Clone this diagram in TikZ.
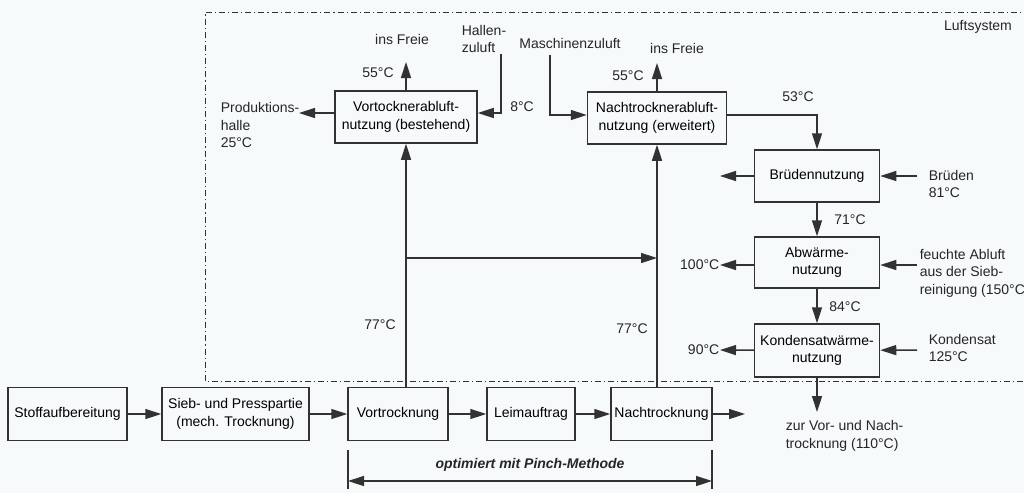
\documentclass[tikz,border=0pt]{standalone}
\usepackage{fontspec}
\setmainfont{Liberation Sans}
\usetikzlibrary{arrows.meta,positioning}
\definecolor{linegray}{RGB}{50,50,50}
\definecolor{paper}{RGB}{246,250,250}

\tikzset{
  every box/.style={draw=linegray, align=center, inner sep=2pt},
  lbl/.style={align=left, inner sep=0pt, text=black!85},
}

\begin{document}
\begin{tikzpicture}[x=1pt, y=-1pt, >={Triangle[length=16pt,width=10pt]}, line width=1.5pt,
  font=\fontsize{14}{17.5}\selectfont]

\fill[paper] (0,0) rectangle (1024,493);
\useasboundingbox (0,0) rectangle (1024,493);

% Luftsystem frame
\draw[linegray, line width=1pt, dash pattern=on 6pt off 3pt on 1.2pt off 3pt]
  (1030,12) -- (205,12) -- (205,381) -- (1030,381);
\node [lbl] (luft) at (978,27) {Luftsystem};

% process line
\foreach \n/\t/\xa/\xb in {stoff/Stoffaufbereitung/8/127,
    sieb/{Sieb- und Presspartie\\(mech. Trocknung)}/162/309,
    vortr/Vortrocknung/348/448, leim/Leimauftrag/487/575, nachtr/Nachtrocknung/611/712}
  \node [every box/.try, minimum width=\xb-\xa, minimum height=53] (\n) at ({(\xa+\xb)/2},414) {\t};

\foreach \a/\b in {stoff/sieb, sieb/vortr, vortr/leim, leim/nachtr}
  \draw [->, linegray] (\a) -- (\b);

\coordinate (nachtr-out) at (745,414);
\draw [->, linegray] (nachtr) -- (nachtr-out);

% pinch range
\coordinate (pinch-l) at (348,481);
\coordinate (pinch-r) at (712,481);
\draw [linegray] (348,450) -- (348,489);
\draw [linegray] (712,450) -- (712,489);
\draw [<->, linegray] (pinch-l) -- (pinch-r);
\node [lbl] (pinch) at (530,465) {\bfseries\itshape optimiert mit Pinch-Methode};

% exhaust air units
\node [every box/.try, minimum width=142, minimum height=52] (vabl) at (406,117)
  {Vortocknerabluft-\\nutzung (bestehend)};
\node [every box/.try, minimum width=139, minimum height=52] (nabl) at (657,118)
  {Nachtrocknerabluft-\\nutzung (erweitert)};

\draw [->, linegray] (vortr.north -| vabl.south) -- (vabl.south);
\draw [->, linegray] (nachtr.north -| nabl.south) -- (nabl.south);

\coordinate (branch) at (vabl.south |- 0,258);
\draw [->, linegray] (branch) -- (branch -| nabl.south);

\node [lbl] (t77a) at (380,325) {77°C};
\node [lbl] (t77b) at (632,329) {77°C};

% Vortrockner side
\node [lbl] (freiA) at (402,39) {ins Freie};
\coordinate (vabl-up) at (406,62);
\draw [->, linegray] (vabl) -- (vabl-up);
\node [lbl] (t55a) at (378,73) {55°C};

\node [lbl, anchor=west] (halle) at (220,125) {Produktions-\\halle\\25°C};
\coordinate (halle-in) at (299,113);
\draw [->, linegray] (vabl.west |- halle-in) -- (halle-in);

\node [lbl] (hzu) at (484,39) {Hallen-\\zuluft};
\coordinate (hzu-a) at (501,54);
\draw [->, linegray] (hzu-a) |- (vabl.east |- halle-in);
\node [lbl] (t8) at (522,107) {8°C};

% Nachtrockner side
\node [lbl] (mzu) at (570,43) {Maschinenzuluft};
\coordinate (mzu-a) at (550,55);
\coordinate (nabl-lvl) at (0,115);
\draw [->, linegray] (mzu-a) |- (nabl.west |- nabl-lvl);

\node [lbl] (freiB) at (677,48) {ins Freie};
\coordinate (nabl-up) at (657,63);
\draw [->, linegray] (nabl) -- (nabl-up);
\node [lbl] (t55b) at (628,76) {55°C};

\node [lbl] (t53) at (798,97) {53°C};

% heat recovery chain
\foreach \n/\t/\y/\h in {brue/Brüdennutzung/176/52, abw/{Abwärme-\\nutzung}/262.5/51,
    kond/{Kondensatwärme-\\nutzung}/350.5/53}
  \node [every box/.try, minimum width=125, minimum height=\h] (\n) at (817,\y) {\t};

\draw [->, linegray] (nabl.east |- nabl-lvl) -| (brue.north);
\draw [->, linegray] (brue) -- (abw);
\draw [->, linegray] (abw) -- (kond);
\node [lbl] (t71) at (850,220) {71°C};
\node [lbl] (t84) at (845,307) {84°C};

\coordinate (brue-out) at (720,176);
\coordinate (brue-in) at (917,176);
\draw [->, linegray] (brue) -- (brue-out);
\draw [->, linegray] (brue-in) -- (brue);
\node [lbl, anchor=west] (brueden) at (928,184) {Brüden\\81°C};

\coordinate (abw-out) at (720,265);
\coordinate (abw-in) at (917,265);
\draw [->, linegray] (abw.west |- abw-out) -- (abw-out);
\draw [->, linegray] (abw-in) -- (abw.east |- abw-in);
\node [lbl, anchor=east] (t100) at (abw-out) {100°C};
\node [lbl, anchor=west] (feucht) at (919,273) {feuchte Abluft\\aus der Sieb-\\reinigung (150°C};

\coordinate (kond-out) at (720,350);
\coordinate (kond-in) at (917,350);
\draw [->, linegray] (kond) -- (kond-out);
\draw [->, linegray] (kond-in) -- (kond);
\node [lbl, anchor=east] (t90) at (kond-out) {90°C};
\node [lbl, anchor=west] (kondensat) at (928,348) {Kondensat\\125°C};

\coordinate (kond-down) at (817,412);
\draw [->, linegray] (kond) -- (kond-down);
\node [lbl, anchor=west] (zur) at (785,436) {zur Vor- und Nach-\\trocknung (110°C)};

\end{tikzpicture}
\end{document}
